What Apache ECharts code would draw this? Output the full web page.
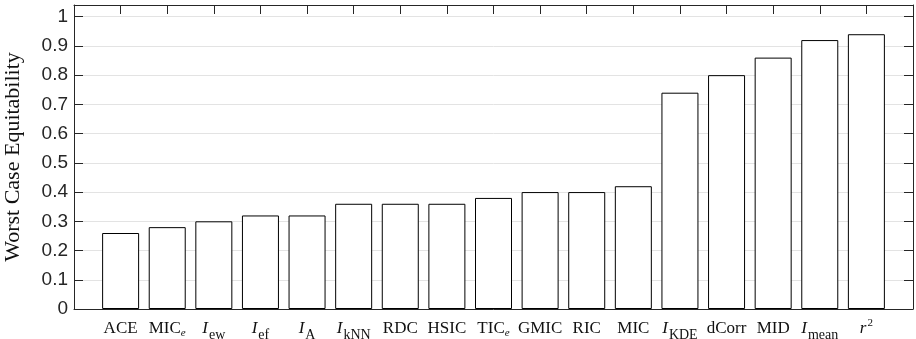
<!DOCTYPE html>
<html>
<head>
<meta charset="utf-8">
<script src="https://cdn.jsdelivr.net/npm/echarts@6/dist/echarts.min.js"></script>
<style>
  html, body { margin: 0; padding: 0; background: #fff; }
  #chart { width: 916px; height: 339px; }
</style>
</head>
<body>
<div id="chart"></div>
<script>
// categories: "X_sub" = subscript, "x^2" = superscript, leading I_ = italic I
var categories = ['ACE', 'MIC_e', 'I_ew', 'I_ef', 'I_A', 'I_kNN', 'RDC', 'HSIC', 'TIC_e',
                  'GMIC', 'RIC', 'MIC', 'I_KDE', 'dCorr', 'MID', 'I_mean', 'r^2'];
var values = [0.26, 0.28, 0.30, 0.32, 0.32, 0.36, 0.36, 0.36, 0.38,
              0.40, 0.40, 0.42, 0.74, 0.80, 0.86, 0.92, 0.94];
var yTicks = [0, 0.1, 0.2, 0.3, 0.4, 0.5, 0.6, 0.7, 0.8, 0.9, 1];

function toRich(name) {
    if (name.indexOf('^') > 0) {
        var p = name.split('^');
        return '{it|' + p[0] + '}{sup|' + p[1] + '}';
    }
    if (name.indexOf('I_') === 0) {
        return '{it|I}{sub|' + name.slice(2) + '}';
    }
    if (name.indexOf('_') > 0) {
        var q = name.split('_');
        return '{rm|' + q[0] + '}{subit|' + q[1] + '}';
    }
    return '{rm|' + name + '}';
}

var serif = '"Liberation Serif", "DejaVu Serif", serif';
var ink = '#262626';

var barData = [];
for (var i = 0; i < values.length; i++) {
    barData.push([i + 1, values[i]]);
}

var chart = echarts.init(document.getElementById('chart'));
chart.setOption({
    animation: false,
    grid: { left: 74, right: 3, top: 5, bottom: 30, outerBoundsMode: 'none', containLabel: false },
    xAxis: [{
        type: 'value',
        position: 'bottom',
        min: 0,
        max: categories.length + 1,
        interval: 1,
        axisLine: { show: true, onZero: false, lineStyle: { color: ink } },
        axisTick: { show: false },
        splitLine: { show: false },
        axisLabel: {
            margin: 6,
            showMinLabel: false,
            showMaxLabel: false,
            formatter: function (v) {
                var k = Math.round(v) - 1;
                return (k >= 0 && k < categories.length) ? toRich(categories[k]) : '';
            },
            rich: {
                rm: { fontFamily: serif, fontSize: 17, color: '#111', lineHeight: 28 },
                it: { fontFamily: serif, fontSize: 17, fontStyle: 'italic', color: '#111', lineHeight: 28 },
                sub: { fontFamily: serif, fontSize: 14, color: '#111', padding: [12, 0, 0, 1] },
                subit: { fontFamily: serif, fontSize: 11, fontStyle: 'italic', color: '#111', padding: [8, 0, 0, 0] },
                sup: { fontFamily: serif, fontSize: 11, color: '#111', padding: [0, 0, 12, 1] }
            }
        }
    }, {
        type: 'value',
        position: 'top',
        min: 0,
        max: categories.length + 1,
        interval: 1,
        axisLine: { show: true, onZero: false, lineStyle: { color: ink } },
        axisTick: { show: true, inside: true, length: 9, lineStyle: { color: ink } },
        axisLabel: { show: false },
        splitLine: { show: false }
    }],
    yAxis: [{
        type: 'value',
        position: 'left',
        min: 0,
        max: 1.04,
        interval: 0.1,
        name: 'Worst Case Equitability',
        nameLocation: 'middle',
        nameGap: 50,
        nameTextStyle: { fontFamily: serif, fontSize: 22, color: '#111' },
        axisLine: { show: true, onZero: false, lineStyle: { color: ink } },
        axisTick: { show: true, inside: true, length: 9, lineStyle: { color: ink } },
        axisLabel: {
            margin: 6,
            showMaxLabel: false,
            fontFamily: '"Liberation Sans", Arial, sans-serif',
            fontSize: 19,
            color: ink,
            formatter: function (v) {
                for (var j = 0; j < yTicks.length; j++) {
                    if (Math.abs(yTicks[j] - v) < 1e-6) return String(yTicks[j]);
                }
                return '';
            }
        },
        splitLine: { show: true, lineStyle: { color: '#e3e3e3', width: 1 } }
    }, {
        type: 'value',
        position: 'right',
        min: 0,
        max: 1.04,
        interval: 0.1,
        axisLine: { show: true, onZero: false, lineStyle: { color: ink } },
        axisTick: { show: true, inside: true, length: 9, lineStyle: { color: ink } },
        axisLabel: { show: false },
        splitLine: { show: false }
    }],
    series: [{
        type: 'bar',
        xAxisIndex: 0,
        yAxisIndex: 0,
        barWidth: 37,
        data: barData,
        itemStyle: { color: '#fff', borderColor: '#000', borderWidth: 1 }
    }]
});
</script>
</body>
</html>
